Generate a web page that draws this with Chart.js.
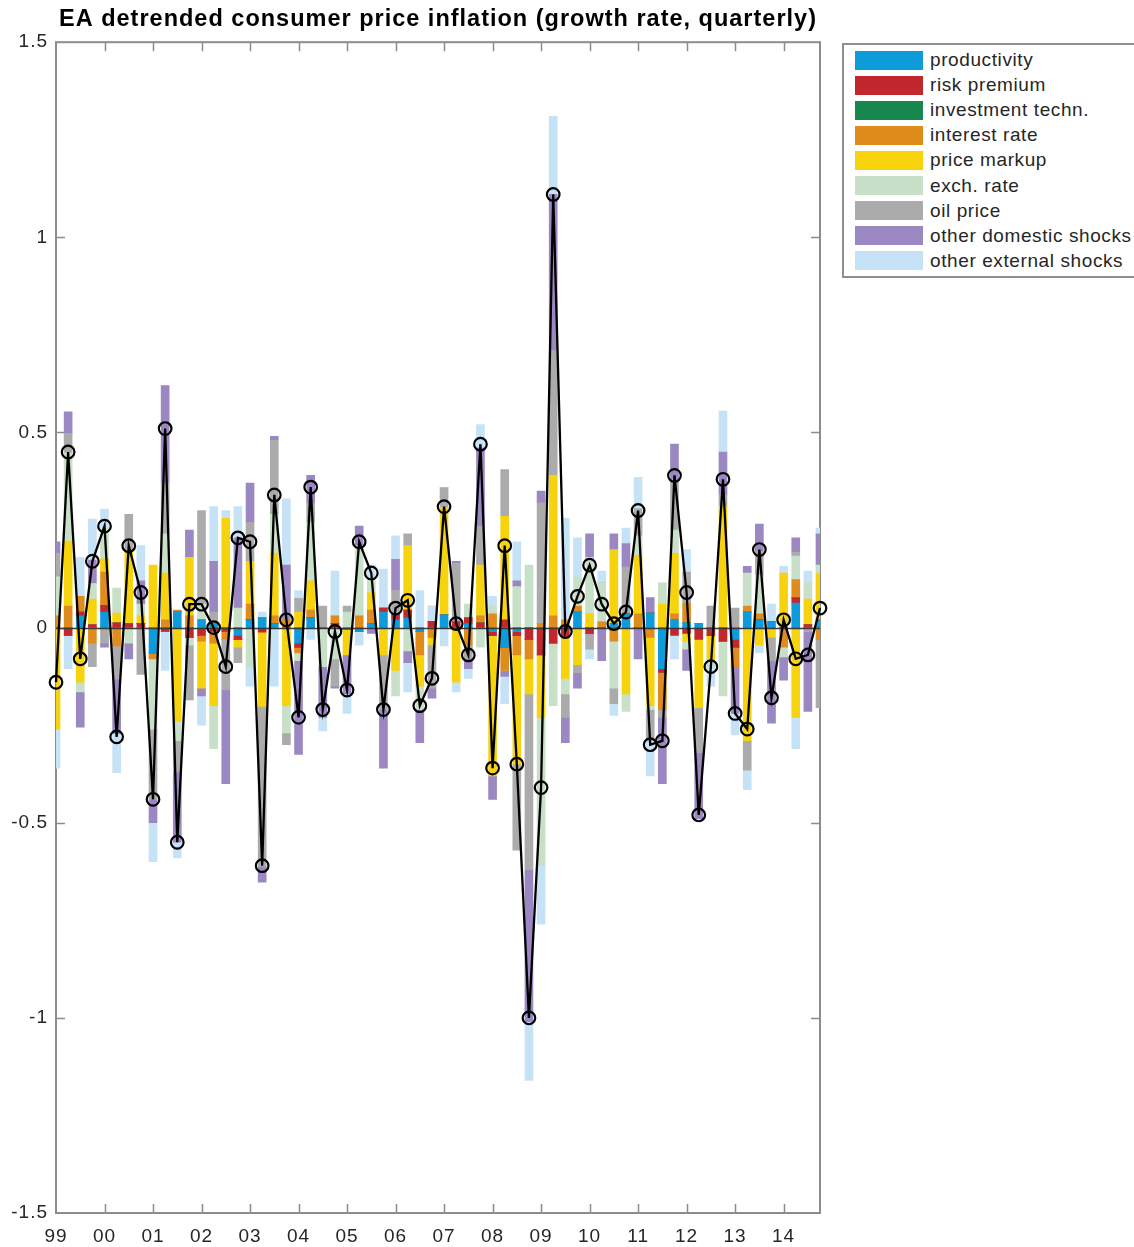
<!DOCTYPE html>
<html><head><meta charset="utf-8">
<script src="https://cdn.jsdelivr.net/npm/chart.js@4.4.1/dist/chart.umd.min.js"></script>
<style>
html,body{margin:0;padding:0;background:#fff;}
#wrap{position:relative;width:1134px;height:1247px;overflow:hidden;background:#fff;}
#c{position:absolute;left:0;top:0;}
#legend{position:absolute;left:842px;top:43px;width:294px;height:235px;border:2px solid #8f8f8f;box-sizing:border-box;background:#fff;font-family:"Liberation Sans",Arial,sans-serif;font-size:19px;letter-spacing:0.6px;color:#262626;}
.item{position:absolute;left:11px;height:20px;display:flex;align-items:center;white-space:nowrap;}
.sw{width:68px;height:19px;margin-right:7px;flex:none;}
</style></head>
<body>
<div id="wrap">
<canvas id="c" width="1134" height="1247"></canvas>
<div id="legend"></div>
</div>
<script>
// ---- tick labels / categories ----
const years = ['99','00','01','02','03','04','05','06','07','08','09','10','11','12','13','14'];
const quarterNames = ['Q1','Q2','Q3','Q4'];
const seriesNames = ['productivity','risk premium','investment techn.','interest rate','price markup','exch. rate','oil price','other domestic shocks','other external shocks'];
const seriesColors = ['#0d9bd9','#c1272d','#17874f','#df8c1c','#f6d30c','#c8e0c8','#ababab','#9b87c1','#c6e2f7'];

// ---- series values (1999Q1 .. 2014Q4) ----
const productivity = [0,0,0.03,0,0.04,0,0,0,-0.065,0,0.04,0,0.02,0.01,0,-0.02,0.02,0.025,0.01,0,-0.04,0.025,0,0,-0.005,-0.01,0.01,0.04,0.02,0.025,-0.01,0,0.033,0,0.01,0,-0.01,-0.05,-0.01,0,0,0,0,0.04,0,0,0.01,0.035,0,0.037,-0.105,0.02,0.012,0.01,0,0,-0.03,0.04,0.02,0.015,0,0.063,0,0.02];
const riskPremium = [0,-0.02,0.01,0.008,0.017,0.012,0.01,0.01,0,-0.01,0,-0.025,-0.02,-0.01,-0.01,-0.01,0,-0.012,0,0,-0.01,0,0,0.01,0,0,0,0.01,0.015,0.02,0,0.016,0,0.015,0.015,0.012,-0.01,0.02,-0.01,-0.03,-0.07,-0.04,-0.025,0,-0.015,0,-0.005,0,0,0,-0.01,-0.02,-0.015,-0.03,-0.02,-0.035,-0.02,0,0,0,0,0.013,0.008,0];
const investmentTechn = [0,0,0,0,0,0,0,0,0,0,0,0,0,0,0,0,0,0,0,0,0,0,0,0,0,0,0,0,0,0,0,0,0,0,0,0,0,0,0,0,0,0,0,0,0,0,0,0,0,0,0,0,0,0,0,0,0,0,0,0,0,0,0,0];
const interestRate = [0.03,0.055,0.04,-0.04,0.085,-0.047,0,0,-0.015,0.02,0.005,0.03,-0.015,-0.03,-0.02,0,0.04,0,0.02,0.02,-0.015,0.02,0,0.02,0,0.03,0.035,0,0,0,-0.06,-0.025,0,0,-0.045,0.018,0.035,-0.06,-0.05,-0.05,0.01,0.03,0.02,0.015,0,0.015,-0.03,0,0.035,-0.025,-0.095,0.015,0.05,0,0,0,-0.05,0.015,0.015,0,-0.05,0.047,0,-0.03];
const priceMarkup = [-0.26,0.167,-0.14,0.065,0.034,0.025,0.19,0.02,0.16,0.12,-0.24,0.15,-0.12,-0.16,0.28,-0.02,0.11,-0.19,0.16,-0.20,0.04,0.075,0,0,-0.065,0,0.045,-0.07,-0.11,0.165,-0.08,-0.02,0.275,-0.14,0,0.13,-0.36,0.265,-0.28,-0.09,-0.16,0.36,-0.105,-0.095,0.035,0,0.19,-0.17,0.15,-0.175,0.06,0.155,-0.02,-0.175,-0.06,0.31,0,-0.29,-0.045,-0.025,0.14,-0.23,0.065,0.12];
const exchRate = [0.10,0.226,-0.025,0.04,0.081,0.064,-0.04,0.03,-0.18,0.10,-0.05,-0.02,0.04,-0.11,0,0.05,-0.10,0,0.10,-0.07,-0.02,0.15,-0.10,-0.08,0.04,0.18,0.035,0,-0.065,-0.06,-0.06,0,0,0,0.035,-0.05,0.02,0,0.105,0.16,-0.38,-0.16,-0.04,0.075,0.145,0.10,-0.12,-0.045,0.05,-0.01,0.055,0.06,-0.02,0,-0.02,-0.14,0,0.085,0.10,0,-0.025,0.06,0.042,0.02];
const oilPrice = [0.06,0.05,0,-0.06,-0.04,-0.085,0.09,-0.12,-0.18,0.13,-0.08,-0.14,0.24,0.03,-0.13,-0.04,0.10,-0.41,0.19,-0.03,0.035,0.05,0.055,-0.07,0.015,0,0,-0.14,0.06,0.03,0,-0.11,0.05,0.15,-0.035,0.10,0,0.12,-0.22,-0.45,0.31,0.32,-0.06,-0.02,-0.04,0,-0.04,0.12,0.07,-0.08,-0.02,0.13,0.08,-0.115,0.055,0.03,0.05,-0.075,0.06,-0.06,0,0.01,-0.01,-0.175];
const otherDomestic = [0.03,0.055,-0.09,0.06,-0.01,-0.14,-0.04,0.06,-0.06,0.25,-0.18,0.07,-0.02,0.13,-0.24,0.18,0.10,-0.04,0.01,0.14,-0.24,0.07,-0.13,-0.005,-0.10,0.05,-0.015,-0.15,0.08,-0.03,-0.085,-0.026,0,0.005,-0.025,0.20,-0.06,-0.015,0.015,-0.39,0.03,0.40,-0.065,-0.04,0.06,-0.085,0.04,0.06,-0.08,0.04,-0.17,0.09,-0.055,-0.17,0,0.11,-0.12,0.017,0.07,-0.16,-0.06,0.037,-0.205,0.08];
const otherExternal = [-0.10,-0.085,0.10,0.105,0.047,-0.10,0,0.09,-0.10,-0.10,-0.04,0,-0.075,0.14,0.02,0.08,-0.05,0.015,-0.15,0.17,0.02,-0.03,-0.035,0.115,-0.05,-0.035,0.035,0.10,0.06,-0.075,0.095,0.04,-0.047,-0.025,-0.025,0.06,0.025,-0.07,0.10,-0.15,-0.15,0.20,0.26,0.10,-0.025,0.03,-0.03,0.04,0.08,-0.09,0,-0.06,0.058,0,-0.05,0.105,-0.055,-0.05,-0.02,0.045,0.017,-0.08,0.03,0.015];
const totalInflation = [-0.14,0.45,-0.08,0.17,0.26,-0.28,0.21,0.09,-0.44,0.51,-0.55,0.06,0.06,0.00,-0.10,0.23,0.22,-0.61,0.34,0.02,-0.23,0.36,-0.21,-0.01,-0.16,0.22,0.14,-0.21,0.05,0.07,-0.20,-0.13,0.31,0.01,-0.07,0.47,-0.36,0.21,-0.35,-1.00,-0.41,1.11,-0.01,0.08,0.16,0.06,0.01,0.04,0.30,-0.30,-0.29,0.39,0.09,-0.48,-0.10,0.38,-0.22,-0.26,0.20,-0.18,0.02,-0.08,-0.07,0.05];

const quarters = years.flatMap(y => quarterNames.map(q => y + q));
const seriesValues = [productivity,riskPremium,investmentTechn,interestRate,priceMarkup,exchRate,oilPrice,otherDomestic,otherExternal];

// ---- legend (HTML text) ----
const lg = document.getElementById('legend');
seriesNames.forEach((n,i) => {
  const d = document.createElement('div');
  d.className = 'item';
  d.style.top = (5 + i*25.1) + 'px';
  d.innerHTML = '<span class="sw" style="background:' + seriesColors[i] + '"></span><span>' + n + '</span>';
  lg.appendChild(d);
});

const FONT = '"Liberation Sans", Arial, sans-serif';

const boxPlugin = {
  id: 'matlabBox',
  beforeLayout(chart) { try { chart.ctx.letterSpacing = '1px'; } catch (e) {} },
  beforeDraw(chart) {
    const c = chart.ctx;
    try { c.letterSpacing = '1px'; } catch (e) {}
    c.save(); c.fillStyle = '#fff'; c.fillRect(0,0,chart.width,chart.height); c.restore();
  },
  beforeDatasetsDraw(chart) {
    const {ctx, chartArea: a, scales} = chart;
    ctx.save();
    ctx.strokeStyle = '#8c8c8c';
    ctx.lineWidth = 2;
    ctx.strokeRect(a.left, a.top, a.right - a.left, a.bottom - a.top);
    ctx.lineWidth = 1.5;
    ctx.beginPath();
    const tl = 9;
    for (let v = -1; v <= 1.0001; v += 0.5) {
      const y = Math.round(scales.y.getPixelForValue(v)) + 0.5;
      ctx.moveTo(a.left, y); ctx.lineTo(a.left + tl, y);
      ctx.moveTo(a.right, y); ctx.lineTo(a.right - tl, y);
    }
    for (let i = 4; i < quarters.length; i += 4) {
      const x = Math.round(scales.x.getPixelForValue(i)) + 0.5;
      ctx.moveTo(x, a.top); ctx.lineTo(x, a.top + tl);
      ctx.moveTo(x, a.bottom); ctx.lineTo(x, a.bottom - tl);
    }
    ctx.stroke();
    ctx.restore();
  },
  afterDatasetDraw(chart, args) {
    if (args.index !== 0) return;
    const {ctx, chartArea: a, scales} = chart;
    const y = Math.round(scales.y.getPixelForValue(0)) + 0.5;
    ctx.save();
    ctx.strokeStyle = '#3a3a3a';
    ctx.lineWidth = 1.3;
    ctx.beginPath(); ctx.moveTo(a.left, y); ctx.lineTo(a.right, y); ctx.stroke();
    ctx.restore();
  }
};

const datasets = seriesNames.map((n,i) => ({
  type: 'bar',
  label: n,
  data: seriesValues[i],
  backgroundColor: seriesColors[i],
  borderWidth: 0,
  barThickness: 8,
  stack: 'contrib',
  order: 1
}));
datasets.push({
  type: 'line',
  label: 'total',
  data: totalInflation,
  borderColor: '#000',
  borderWidth: 2.3,
  pointRadius: 6.3,
  pointBorderWidth: 2.2,
  pointBackgroundColor: 'rgba(0,0,0,0)',
  pointBorderColor: '#000',
  tension: 0,
  stack: 'total',
  order: 0,
  clip: false
});

new Chart(document.getElementById('c'), {
  type: 'bar',
  data: { labels: quarters, datasets },
  options: {
    responsive: false,
    animation: false,
    devicePixelRatio: 1,
    layout: { padding: { left: 0, right: 314, top: 0, bottom: 0 } },
    plugins: {
      legend: { display: false },
      tooltip: { enabled: false },
      title: {
        display: true,
        fullSize: false,
        text: 'EA detrended consumer price inflation (growth rate, quarterly)',
        color: '#000',
        font: { family: FONT, size: 23.5, weight: 'bold', lineHeight: 1.2 },
        padding: { top: 5, bottom: 9 }
      }
    },
    scales: {
      x: {
        type: 'category',
        stacked: true,
        offset: false,
        grid: { display: false, drawTicks: false, offset: false },
        border: { display: false },
        ticks: {
          autoSkip: false, maxRotation: 0, minRotation: 0, padding: 12,
          color: '#262626', font: { family: FONT, size: 19 },
          callback: (v, i) => (i % 4 === 0 ? years[i / 4] : null)
        },
        afterFit: s => { s.height = 34; }
      },
      y: {
        stacked: true,
        min: -1.5, max: 1.5,
        grid: { display: false, drawTicks: false },
        border: { display: false },
        ticks: {
          stepSize: 0.5, padding: 8, color: '#262626', font: { family: FONT, size: 19 },
          callback: v => String(Math.round(v * 10) / 10)
        },
        afterFit: s => { s.width = 56; }
      }
    }
  },
  plugins: [boxPlugin]
});
</script>
</body></html>
